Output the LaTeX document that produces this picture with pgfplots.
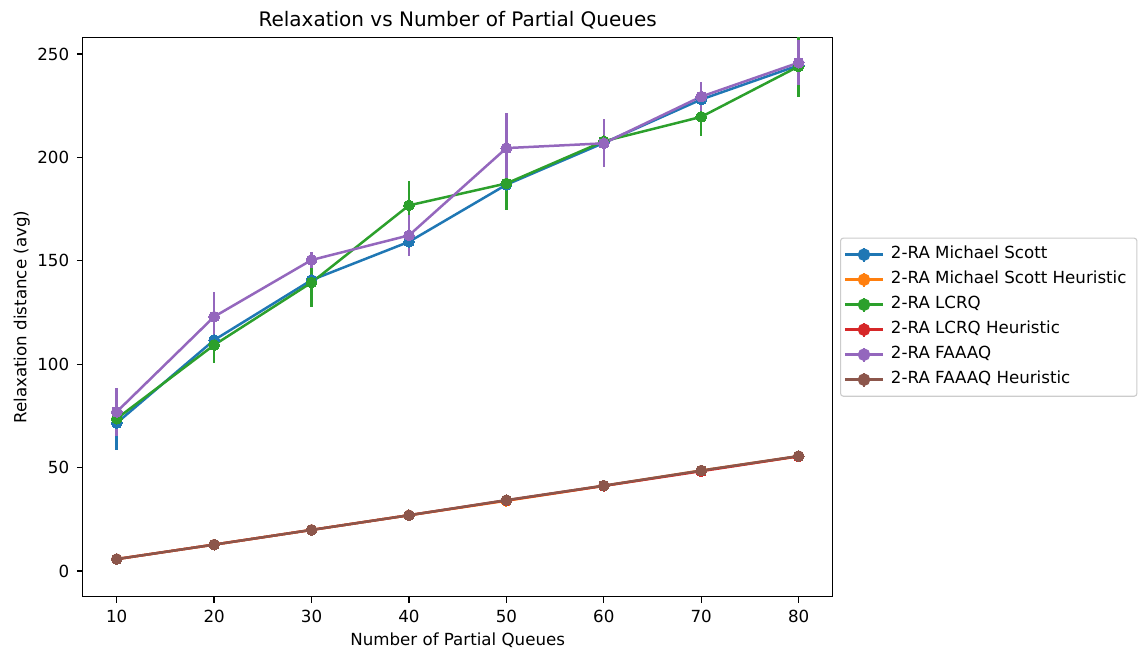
\documentclass[border=0pt]{standalone}
\usepackage{fontspec}
\setmainfont{DejaVu Sans}
\usepackage{pgfplots}
\pgfplotsset{compat=1.18}

\definecolor{c0}{HTML}{1F77B4}
\definecolor{c1}{HTML}{FF7F0E}
\definecolor{c2}{HTML}{2CA02C}
\definecolor{c3}{HTML}{D62728}
\definecolor{c4}{HTML}{9467BD}
\definecolor{c5}{HTML}{8C564B}

\pgfplotsset{
  series/.style={
    color=#1, line width=1.8pt, mark=*, mark size=3.9pt,
    mark options={solid, fill=#1, draw=#1, line width=0pt},
    error bars/.cd, y dir=both, y explicit, error mark=none,
    error bar style={line width=1.8pt, color=#1}
  }
}

\begin{document}
\begin{tikzpicture}
\useasboundingbox (-59.5pt,-38.4pt) rectangle (764.1pt,429.6pt);
\begin{axis}[
    scale only axis,
    width=540pt, height=402.5pt,
    xmin=6.5, xmax=83.5,
    ymin=-12.4, ymax=257.9,
    xtick={10,20,30,40,50,60,70,80},
    ytick={0,50,100,150,200,250},
    xtick pos=bottom, ytick pos=left,
    tick align=outside,
    major tick length=4.2pt,
    every tick/.style={black, line width=0.96pt},
    axis line style={black, line width=0.96pt},
    ticklabel style={font=\fontsize{12}{14}\selectfont},
    xticklabel style={yshift=-1.8pt},
    yticklabel style={xshift=-2pt},
    /pgf/number format/assume math mode=true,
    every axis title shift=0pt,
    title={Relaxation vs Number of Partial Queues},
    title style={font=\fontsize{14.4}{17}\selectfont, at={(axis description cs:0.5,1.0316)}, anchor=center},
    xlabel={Number of Partial Queues},
    xlabel style={font=\fontsize{12}{14}\selectfont, at={(axis description cs:0.5,-0.0775)}, anchor=center},
    ylabel={Relaxation distance (avg)},
    ylabel style={font=\fontsize{12}{14}\selectfont, at={(axis description cs:-0.081,0.5)}, anchor=center},
    legend cell align=left,
    legend style={
      at={(1.0097,0.5)}, anchor=west,
      draw=black!20, line width=0.8pt, rounded corners=2pt,
      font=\fontsize{12}{14}\selectfont,
      inner xsep=2.5pt, inner ysep=6pt,
      row sep=6.2pt,
      nodes={inner xsep=5pt, inner ysep=0pt, text height=8.8pt, text depth=2.8pt}
    },
    legend image code/.code={
      \draw[line width=1.8pt] (0pt,0pt) -- (27pt,0pt);
      \draw[line width=1.8pt] (13.5pt,-5pt) -- (13.5pt,5pt);
      \fill (13.5pt,0pt) circle (3.6pt);
    },
]

\addplot[series=c0] coordinates {
  (10,71.6) +- (0,13)
  (20,111.7) +- (0,9)
  (30,140.7) +- (0,5)
  (40,159.2) +- (0,5)
  (50,186.8) +- (0,6)
  (60,207.0) +- (0,5)
  (70,228.0) +- (0,8.5)
  (80,244.5) +- (0,6)
};
\addlegendentry{2-RA Michael Scott}

\addplot[series=c1] coordinates {
  (10,5.8) +- (0,0.2)
  (20,12.8) +- (0,0.2)
  (30,19.9) +- (0,0.2)
  (40,27.0) +- (0,0.2)
  (50,34.0) +- (0,0.2)
  (60,41.2) +- (0,0.2)
  (70,48.6) +- (0,0.2)
  (80,55.5) +- (0,0.2)
};
\addlegendentry{2-RA Michael Scott Heuristic}

\addplot[series=c2] coordinates {
  (10,73.7) +- (0,5)
  (20,109.3) +- (0,8.5)
  (30,139.5) +- (0,11.8)
  (40,176.8) +- (0,11.8)
  (50,187.4) +- (0,12.6)
  (60,207.8) +- (0,5)
  (70,219.6) +- (0,9.2)
  (80,244.0) +- (0,14.6)
};
\addlegendentry{2-RA LCRQ}

\addplot[series=c3] coordinates {
  (10,5.8) +- (0,0.2)
  (20,12.8) +- (0,0.2)
  (30,19.9) +- (0,0.2)
  (40,27.0) +- (0,0.2)
  (50,34.2) +- (0,0.2)
  (60,41.2) +- (0,0.2)
  (70,48.3) +- (0,0.2)
  (80,55.5) +- (0,0.2)
};
\addlegendentry{2-RA LCRQ Heuristic}

\addplot[series=c4] coordinates {
  (10,77.0) +- (0,11.5)
  (20,123.0) +- (0,12)
  (30,150.4) +- (0,4)
  (40,162.3) +- (0,10)
  (50,204.5) +- (0,16.8)
  (60,206.8) +- (0,11.6)
  (70,229.4) +- (0,7)
  (80,245.8) +- (0,11)
};
\addlegendentry{2-RA FAAAQ}

\addplot[series=c5] coordinates {
  (10,5.8) +- (0,0.2)
  (20,12.8) +- (0,0.2)
  (30,19.9) +- (0,0.2)
  (40,27.0) +- (0,0.2)
  (50,34.3) +- (0,0.2)
  (60,41.3) +- (0,0.2)
  (70,48.6) +- (0,0.2)
  (80,55.6) +- (0,0.2)
};
\addlegendentry{2-RA FAAAQ Heuristic}

\end{axis}
\end{tikzpicture}
\end{document}
